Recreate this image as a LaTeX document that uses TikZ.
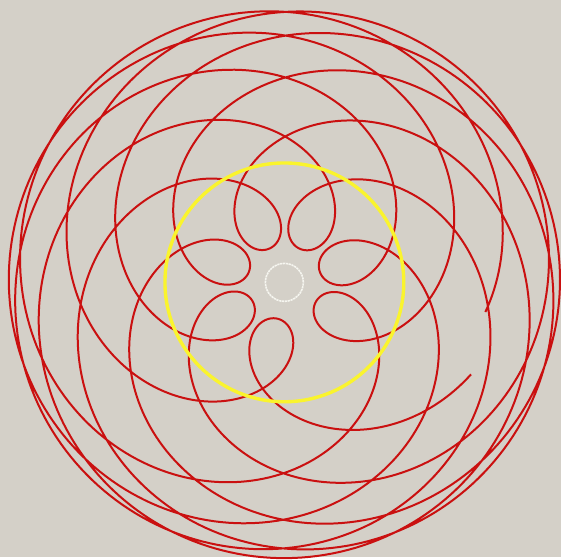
\documentclass[tikz,border=0pt]{standalone}
\definecolor{bgc}{RGB}{212,208,200}
\definecolor{redc}{RGB}{202,16,16}
\definecolor{yelc}{RGB}{250,244,45}
\definecolor{whc}{RGB}{246,246,240}
\tikzset{
  curveline/.style={draw=redc, line width=2pt, line join=round},
  ringline/.style={draw=yelc, line width=3.4pt},
  hubline/.style={draw=whc, line width=1.6pt, dash pattern=on 2.2pt off 0.7pt}
}
\begin{document}
\begin{tikzpicture}[x=1pt,y=1pt]
\fill[bgc] (0,0) rectangle (561,557);
\coordinate (c) at (284.6,274.4);
\draw[curveline] plot[domain=-1.502:42.538, samples=2400, variable=\t]
  ({284.6+156.5*cos(deg(-4.0998+1.1339*\t))+119.5*cos(deg(-4.0998+2.1339*\t))},
   {274.4+156.5*sin(deg(-4.0998+1.1339*\t))+119.5*sin(deg(-4.0998+2.1339*\t))});
\draw[ringline] (c) circle[radius=119.5];
\draw[hubline] (c) circle[radius=19];
\end{tikzpicture}
\end{document}
